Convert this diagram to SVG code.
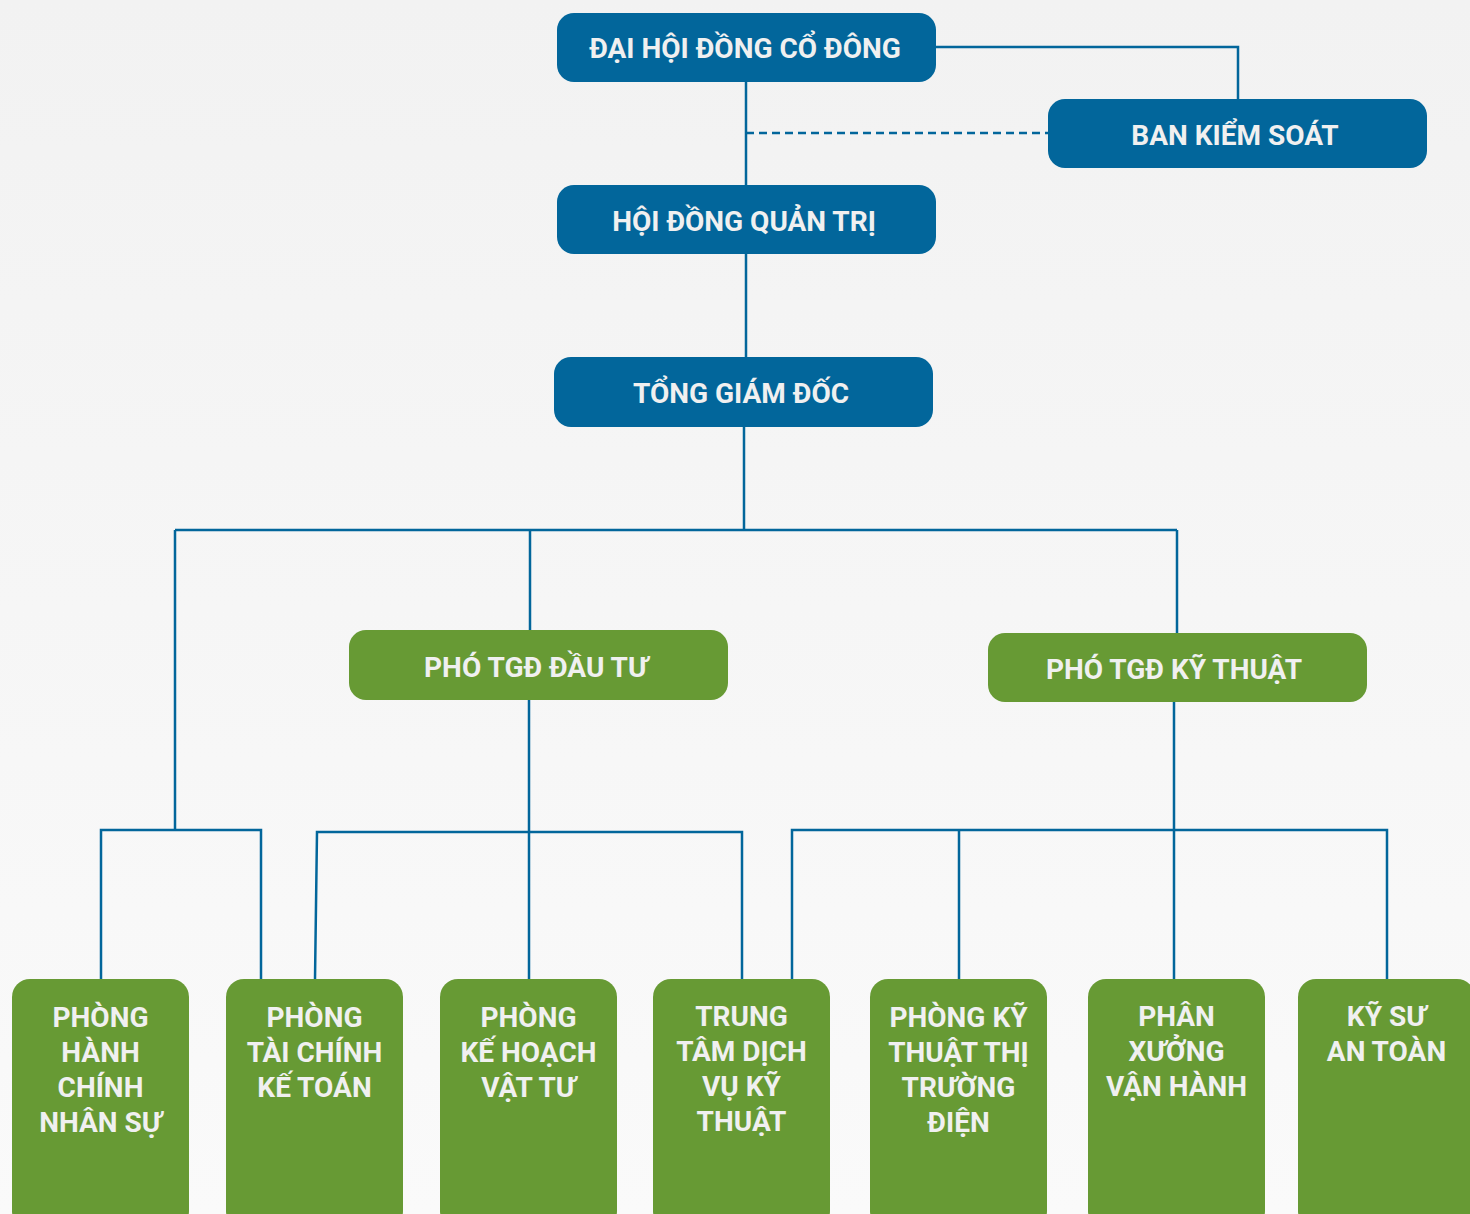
<svg xmlns="http://www.w3.org/2000/svg" width="1470" height="1214" viewBox="0 0 1470 1214">
  <defs>
    <linearGradient id="bg" x1="0" y1="0" x2="0" y2="1">
      <stop offset="0" stop-color="#f2f2f2"/>
      <stop offset="1" stop-color="#fafafa"/>
    </linearGradient>
    <style>
      .blue { fill: #02669b; }
      .green { fill: #679a34; }
      .lbl { font-family: Roboto, "Liberation Sans", Arial, sans-serif; font-weight: 700; font-size: 28px; fill: #f0f0f0; text-anchor: middle; }
      .con { fill: none; stroke: #02669b; stroke-width: 2.5; }
      .dash { stroke-dasharray: 8 5; }
    </style>
  </defs>
  <rect x="0" y="0" width="1470" height="1214" fill="url(#bg)"/>

  <g id="connectors">
    <polyline class="con" points="936,47 1238,47 1238,99"/>
    <line class="con" x1="746" y1="82" x2="746" y2="185"/>
    <line class="con dash" x1="746" y1="133" x2="1048" y2="133"/>
    <line class="con" x1="746" y1="254" x2="746" y2="357"/>
    <line class="con" x1="744" y1="427" x2="744" y2="530"/>
    <line class="con" x1="175" y1="530" x2="1177" y2="530"/>
    <line class="con" x1="530" y1="530" x2="530" y2="630"/>
    <line class="con" x1="1177" y1="530" x2="1177" y2="633"/>
    <line class="con" x1="175" y1="530" x2="175" y2="830"/>
    <polyline class="con" points="101,979 101,830 261,830 261,979"/>
    <line class="con" x1="529" y1="700" x2="529" y2="979"/>
    <polyline class="con" points="315,979 317,832 742,832 742,979"/>
    <line class="con" x1="1174" y1="702" x2="1174" y2="979"/>
    <polyline class="con" points="792,979 792,830 1387,830 1387,979"/>
    <line class="con" x1="959" y1="830" x2="959" y2="979"/>
  </g>

  <g id="dhdcd">
    <rect class="blue" x="557" y="13" width="379" height="69" rx="17"/>
    <text class="lbl" x="745" y="58">ĐẠI HỘI ĐỒNG CỔ ĐÔNG</text>
  </g>
  <g id="bks">
    <rect class="blue" x="1048" y="99" width="379" height="69" rx="17"/>
    <text class="lbl" x="1235" y="145">BAN KIỂM SOÁT</text>
  </g>
  <g id="hdqt">
    <rect class="blue" x="557" y="185" width="379" height="69" rx="17"/>
    <text class="lbl" x="744" y="231">HỘI ĐỒNG QUẢN TRỊ</text>
  </g>
  <g id="tgd">
    <rect class="blue" x="554" y="357" width="379" height="70" rx="17"/>
    <text class="lbl" x="741" y="403">TỔNG GIÁM ĐỐC</text>
  </g>
  <g id="ptgd-dt">
    <rect class="green" x="349" y="630" width="379" height="70" rx="17"/>
    <text class="lbl" x="536" y="677">PHÓ TGĐ ĐẦU TƯ</text>
  </g>
  <g id="ptgd-kt">
    <rect class="green" x="988" y="633" width="379" height="69" rx="17"/>
    <text class="lbl" x="1174" y="679">PHÓ TGĐ KỸ THUẬT</text>
  </g>

  <g id="p-hcns">
    <rect class="green" x="12" y="979" width="177" height="250" rx="18"/>
    <text class="lbl" x="100.5" y="1027">PHÒNG</text>
    <text class="lbl" x="100.5" y="1062">HÀNH</text>
    <text class="lbl" x="100.5" y="1097">CHÍNH</text>
    <text class="lbl" x="100.5" y="1132">NHÂN SỰ</text>
  </g>
  <g id="p-tckt">
    <rect class="green" x="226" y="979" width="177" height="250" rx="18"/>
    <text class="lbl" x="314.5" y="1027">PHÒNG</text>
    <text class="lbl" x="314.5" y="1062">TÀI CHÍNH</text>
    <text class="lbl" x="314.5" y="1097">KẾ TOÁN</text>
  </g>
  <g id="p-khvt">
    <rect class="green" x="440" y="979" width="177" height="250" rx="18"/>
    <text class="lbl" x="528.5" y="1027">PHÒNG</text>
    <text class="lbl" x="528.5" y="1062">KẾ HOẠCH</text>
    <text class="lbl" x="528.5" y="1097">VẬT TƯ</text>
  </g>
  <g id="tt-dvkt">
    <rect class="green" x="653" y="979" width="177" height="250" rx="18"/>
    <text class="lbl" x="741.5" y="1026">TRUNG</text>
    <text class="lbl" x="741.5" y="1061">TÂM DỊCH</text>
    <text class="lbl" x="741.5" y="1096">VỤ KỸ</text>
    <text class="lbl" x="741.5" y="1131">THUẬT</text>
  </g>
  <g id="p-kttd">
    <rect class="green" x="870" y="979" width="177" height="250" rx="18"/>
    <text class="lbl" x="958.5" y="1027">PHÒNG KỸ</text>
    <text class="lbl" x="958.5" y="1062">THUẬT THỊ</text>
    <text class="lbl" x="958.5" y="1097">TRƯỜNG</text>
    <text class="lbl" x="958.5" y="1132">ĐIỆN</text>
  </g>
  <g id="px-vh">
    <rect class="green" x="1088" y="979" width="177" height="250" rx="18"/>
    <text class="lbl" x="1176.5" y="1026">PHÂN</text>
    <text class="lbl" x="1176.5" y="1061">XƯỞNG</text>
    <text class="lbl" x="1176.5" y="1096">VẬN HÀNH</text>
  </g>
  <g id="ks-at">
    <rect class="green" x="1298" y="979" width="177" height="250" rx="18"/>
    <text class="lbl" x="1386.5" y="1026">KỸ SƯ</text>
    <text class="lbl" x="1386.5" y="1061">AN TOÀN</text>
  </g>
</svg>
